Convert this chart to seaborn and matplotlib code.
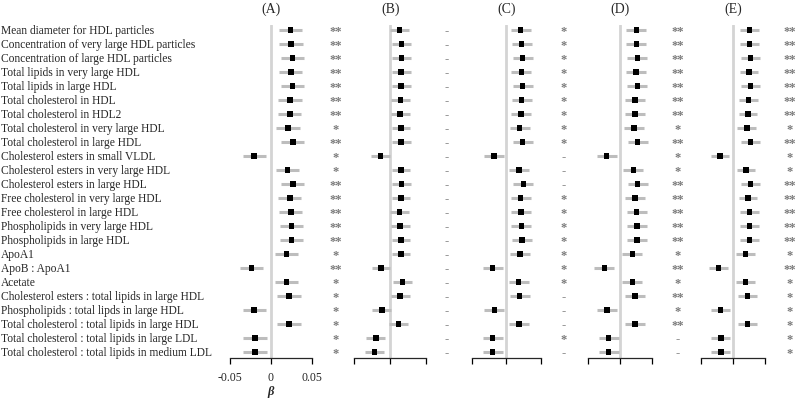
import numpy as np
import pandas as pd
import seaborn as sns
import matplotlib.pyplot as plt
from matplotlib.transforms import blended_transform_factory

# Row labels (top to bottom)
labels = [
    "Mean diameter for HDL particles",
    "Concentration of very large HDL particles",
    "Concentration of large HDL particles",
    "Total lipids in very large HDL",
    "Total lipids in large HDL",
    "Total cholesterol in HDL",
    "Total cholesterol in HDL2",
    "Total cholesterol in very large HDL",
    "Total cholesterol in large HDL",
    "Cholesterol esters in small VLDL",
    "Cholesterol esters in very large HDL",
    "Cholesterol esters in large HDL",
    "Free cholesterol in very large HDL",
    "Free cholesterol in large HDL",
    "Phospholipids in very large HDL",
    "Phospholipids in large HDL",
    "ApoA1",
    "ApoB : ApoA1",
    "Acetate",
    "Cholesterol esters : total lipids in large HDL",
    "Phospholipids : total lipds in large HDL",
    "Total cholesterol : total lipids in large HDL",
    "Total cholesterol : total lipids in large LDL",
    "Total cholesterol : total lipids in medium LDL",
]

panel_names = ["(A)", "(B)", "(C)", "(D)", "(E)"]

# beta estimates per panel
beta_a = [0.024, 0.0248, 0.0264, 0.0244, 0.0264, 0.0236, 0.0232, 0.0211, 0.0268, -0.0203,
          0.0203, 0.0268, 0.0232, 0.0244, 0.0252, 0.0252, 0.019, -0.0236, 0.019, 0.0223,
          -0.0203, 0.0223, -0.0195, -0.0195]
beta_b = [0.013, 0.0158, 0.0158, 0.0154, 0.0154, 0.0145, 0.014, 0.015, 0.0154, -0.0135,
          0.015, 0.0158, 0.015, 0.013, 0.014, 0.015, 0.015, -0.0126, 0.0173, 0.014,
          -0.0117, 0.0117, -0.020, -0.022]
beta_c = [0.0207, 0.0222, 0.0236, 0.0216, 0.0236, 0.0222, 0.0212, 0.0193, 0.0236, -0.0177,
          0.0183, 0.0245, 0.0207, 0.0212, 0.0216, 0.0226, 0.0197, -0.0196, 0.0178, 0.0193,
          -0.0173, 0.0183, -0.0196, -0.0196]
beta_d = [0.025, 0.025, 0.0266, 0.0245, 0.0266, 0.0234, 0.0234, 0.021, 0.0271, -0.0213,
          0.0203, 0.0271, 0.0229, 0.0255, 0.026, 0.026, 0.0188, -0.025, 0.0188, 0.0234,
          -0.0208, 0.0234, -0.0182, -0.0182]
beta_e = [0.025, 0.025, 0.0266, 0.0245, 0.0266, 0.024, 0.023, 0.021, 0.0266, -0.0208,
          0.0198, 0.0271, 0.023, 0.025, 0.0255, 0.0255, 0.0193, -0.0234, 0.0193, 0.0224,
          -0.0203, 0.0219, -0.0193, -0.0193]

# half width of the confidence intervals per panel
ci_a = 0.0143
ci_b = 0.013
ci_c = 0.0143
ci_d = 0.0155
ci_e = 0.0148

# significance markers
sig_a = ["**", "**", "**", "**", "**", "**", "**", "*", "**", "*", "*", "**",
         "**", "**", "**", "**", "*", "**", "*", "*", "*", "*", "*", "*"]
sig_b = ["-"] * 24
sig_c = ["*", "*", "*", "*", "*", "*", "*", "*", "*", "-", "-", "-",
         "*", "*", "*", "*", "*", "*", "*", "-", "-", "-", "*", "-"]
sig_d = ["**", "**", "**", "**", "**", "**", "**", "*", "**", "*", "*", "**",
         "**", "**", "**", "**", "*", "**", "*", "**", "*", "**", "-", "-"]
sig_e = ["**", "**", "**", "**", "**", "**", "**", "*", "**", "*", "*", "**",
         "**", "**", "**", "**", "*", "**", "*", "*", "*", "*", "*", "*"]

xticks = [-0.05, 0, 0.05]
xticklabels = ["-0.05", "0", "0.05"]

sns.set_style("white")
plt.rcParams['font.family'] = ['Liberation Serif', 'DejaVu Serif']

W, H = 796, 400
fig = plt.figure(figsize=(W / 100, H / 100), dpi=100)

# panel geometry in pixels: left edge, width, offset of the stars
lefts = [230, 354.3, 471.6, 588.3, 701.3]
widths = [81.7, 71.7, 69.4, 64, 64]
star_off = [24.3, 21, 23, 25.7, 24.7]

betas = [beta_a, beta_b, beta_c, beta_d, beta_e]
cis = [ci_a, ci_b, ci_c, ci_d, ci_e]
sigs = [sig_a, sig_b, sig_c, sig_d, sig_e]

rows = np.arange(len(labels))
for k in range(5):
    ax = fig.add_axes([lefts[k] / W, 42 / H, widths[k] / W, 333 / H])
    df = pd.DataFrame({"beta": betas[k], "row": rows})
    ax.axvline(0, color="#d4d4d4", lw=2, zorder=0)
    ax.hlines(df["row"], df["beta"] - cis[k], df["beta"] + cis[k],
              color="#bdbdbd", lw=2.2, zorder=1)
    sns.scatterplot(data=df, x="beta", y="row", marker="s", s=16, color="black",
                    edgecolor="none", ax=ax, zorder=2, legend=False)
    ax.set_xlim(-0.05, 0.05)
    ax.set_ylim(23.43, -0.357)
    sns.despine(ax=ax, left=True)
    ax.spines["bottom"].set_linewidth(0.9)
    ax.set_xticks(xticks)
    ax.tick_params(axis="x", direction="out", length=4.3, width=0.9, color="black",
                   labelsize=8.5, pad=6, bottom=True)
    ax.set_title(panel_names[k], fontsize=10, pad=9)
    ax.set_ylabel("")
    if k == 0:
        ax.set_xticklabels(xticklabels)
        ax.set_xlabel("β", fontstyle="italic", fontweight="bold", fontsize=9, labelpad=1)
        ax.set_yticks(rows)
        ax.set_yticklabels(labels, ha="left", fontsize=8.3)
        ax.tick_params(axis="y", length=0, pad=(lefts[0] - 1) * 0.72)
    else:
        ax.set_xticklabels([])
        ax.set_xlabel("")
        ax.set_yticks([])
    trans = blended_transform_factory(ax.transAxes, ax.transData)
    for r, s in zip(rows, sigs[k]):
        ax.text(1 + star_off[k] / widths[k], r + 0.33, s, transform=trans, ha="center",
                va="baseline", color="#7a7a7a", fontsize=9, fontweight="bold",
                clip_on=False)

plt.savefig("out.png", dpi=100)
